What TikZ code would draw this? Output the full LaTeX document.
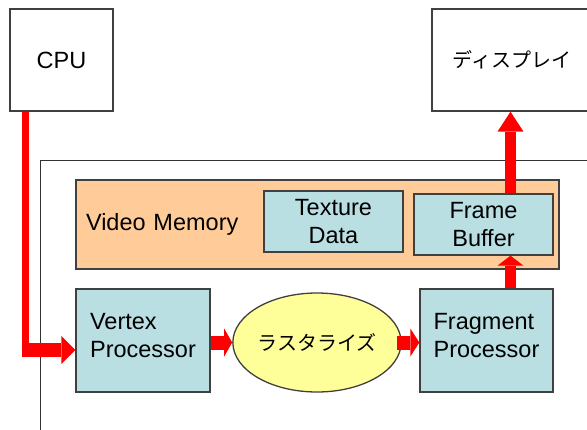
\documentclass[tikz,border=0pt]{standalone}
\usepackage{fontspec}
\setmainfont{Liberation Sans}
\newfontfamily\jpfont{Noto Sans CJK JP}
\usetikzlibrary{arrows.meta,shapes.geometric}
\definecolor{procblue}{RGB}{185,223,227}
\definecolor{memorange}{RGB}{255,204,153}
\definecolor{rastyellow}{RGB}{255,255,153}

\begin{document}
\begin{tikzpicture}[x=1pt,y=-1pt,
  font=\fontsize{23.5}{28}\selectfont,
  box/.style={draw=black!75,line width=1.3pt,rectangle,inner sep=0pt},
  unit/.style={box,fill=procblue},
  jp/.style={font=\jpfont\fontsize{20}{24}\selectfont},
  block/.style={red,line width=14pt,-{Triangle[length=#1,width=28pt,line width=0pt]}},
  vblock/.style={red,line width=11pt,-{Triangle[length=#1,width=26pt,line width=0pt]}}]
\clip (0,0) rectangle (587,429);

%Boxes
\node[box,minimum width=103pt,minimum height=102pt] (cpu) at (61.5,60) {CPU};
\node[box,jp,minimum width=160pt,minimum height=102pt] (disp) at (512,60) {ディスプレイ};
\draw[black!80,line width=1pt] (40,160) rectangle (600,450);
\node[box,fill=memorange,inner xsep=10pt,text width=463pt,minimum height=89pt,align=left] (vmem) at (317.5,224.5) {Video Memory};
\node[unit,minimum width=139pt,minimum height=61pt,align=center] (tex) at (333.5,221.5) {Texture\\Data};
\node[unit,minimum width=139pt,minimum height=61pt,align=center] (fb) at (483.5,224.5) {Frame\\Buffer};

%Pipeline
\node[unit,minimum width=134pt,minimum height=103pt,align=left,text height=50pt,text depth=17pt] (vp) at (143,340.5) {Vertex\\Processor};
\node[ellipse,draw=black!75,line width=1.3pt,fill=rastyellow,jp,minimum width=156pt,minimum height=99pt,inner sep=0pt] (rast) at (317,342.5) {ラスタライズ};
\node[unit,minimum width=133pt,minimum height=103pt,align=left,text height=50pt,text depth=17pt] (fp) at (486.5,340.5) {Fragment\\Processor};

%Arrows
\coordinate (elbow) at (25.5,350);
\coordinate (bus) at (510.5,0);
\draw[red,line width=7pt] (elbow |- cpu.south) -- ([yshift=-7pt]elbow);
\draw[block=14pt] ([xshift=-3.5pt]elbow) -- (elbow -| vp.west);
\draw[block=8pt] (vp.east |- rast.west) -- (rast.west);
\draw[block=9pt] ([xshift=-5pt]rast.east) -- (rast.east -| fp.west);
\draw[vblock=10pt] (bus |- fp.north) -- (bus |- fb.south);
\draw[vblock=20pt] (bus |- fb.north) -- (bus |- disp.south);

\end{tikzpicture}
\end{document}
